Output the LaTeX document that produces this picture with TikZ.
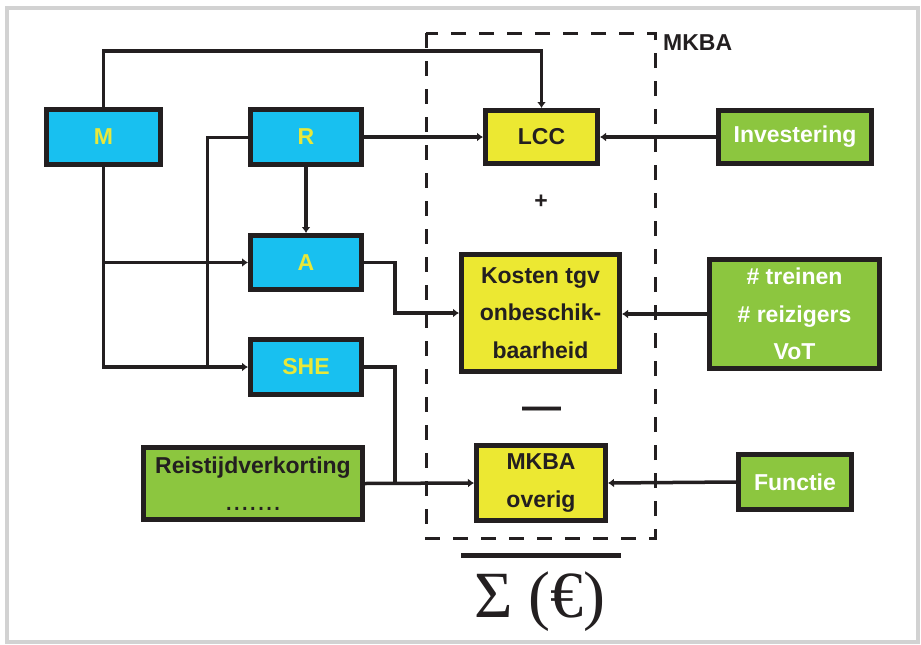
\documentclass[tikz,border=0pt]{standalone}
\usepackage{fontspec}
\setmainfont{Liberation Sans}
\newfontfamily\symfont{Liberation Serif}
\usetikzlibrary{arrows.meta}
\definecolor{ink}{HTML}{231F20}
\definecolor{boxcyan}{HTML}{18C0F0}
\definecolor{boxyellow}{HTML}{ECE832}
\definecolor{boxgreen}{HTML}{8CC63F}
\definecolor{lblyellow}{HTML}{E8E83A}
\definecolor{framegray}{HTML}{D2D2D2}

\begin{document}
\begin{tikzpicture}[x=1pt,y=-1pt,
  box/.style={draw=ink,line width=5pt,inner sep=0pt,align=center,
    font=\fontsize{23}{37.5}\selectfont\bfseries},
  cyanbox/.style={box,fill=boxcyan,text=lblyellow},
  yellowbox/.style={box,fill=boxyellow,text=ink},
  greenbox/.style={box,fill=boxgreen,text=white},
  sz/.style 2 args={minimum width=#1pt,minimum height=#2pt},
  conn/.style={draw=ink,line width=3.5pt},
  thinconn/.style={draw=ink,line width=3pt},
  arr/.style={conn,-{Latex[length=6pt,width=9pt]}},
  plain/.style={inner sep=0pt,text=ink,font=\fontsize{23}{28}\selectfont\bfseries},
]
\useasboundingbox (0,0) rectangle (921,645);
\draw[framegray,line width=4pt] (7,8) rectangle (918,642);

% MKBA boundary
\draw[ink,line width=3pt,dash pattern=on 15pt off 13pt] (426,33) rectangle (655,538);
\node[plain,anchor=north west] (mkbalbl) at (663,34) {MKBA};

% input blocks
\node[cyanbox,sz={114}{55}] (M) at (103.5,137) {M};
\node[cyanbox,sz={111}{55}] (R) at (306,137) {R};
\node[cyanbox,sz={111}{54}] (A) at (306,262.5) {A};
\node[cyanbox,sz={111}{55}] (SHE) at (306,367) {SHE};

% cost terms
\node[yellowbox,sz={112}{53}] (LCC) at (541.5,137) {LCC};
\node[yellowbox,sz={158}{117}] (KU) at (540.5,313) {Kosten tgv\\onbeschik-\\baarheid};
\node[yellowbox,sz={129}{75}] (MO) at (541,483) {MKBA\\overig};

% external inputs
\node[greenbox,sz={153}{53}] (INV) at (795,137) {Investering};
\node[greenbox,sz={170}{109}] (TR) at (794.5,314) {\# treinen\\\# reizigers\\VoT};
\node[greenbox,sz={113}{55}] (FU) at (795,482) {Functie};
\node[greenbox,text=ink,sz={219}{72}] (RT) at (253,483.5)
  {Reistijdverkorting\\{\fontsize{29}{37.5}\selectfont\mdseries .......}};

% operators and total
\node[plain] (plus) at (541,202) {+};
\node[plain,anchor=base,font=\fontsize{39}{40}\selectfont\bfseries] (minus) at (541.5,419) {—};
\draw[ink,line width=5pt] (461,555) -- (621,555);
\node[inner sep=0pt,anchor=base,text=ink,font=\symfont\fontsize{66}{70}\selectfont] (total) at (540,617) {Σ (€)};

% connectors
\coordinate (topy) at (0,51);
\coordinate (rx) at (207,0);
\coordinate (sx) at (395,0);
\draw[arr] (M.north) -- (M.north |- topy) -| (LCC.north);
\draw[arr] (R.east) -- (LCC.west);
\draw[arr] (INV.west) -- (LCC.east);
\draw[arr] (R.south) -- (A.north);
\draw[arr] (M.south) |- (A.west);
\draw[arr] (M.south) |- (SHE.west);
\draw[thinconn] (R.west) -| (rx |- SHE.west);
\draw[arr] (A.east) -- ++(31,0) |- (KU.west);
\draw[arr] (TR.west) -- (KU.east |- TR.west);
\draw[conn] (SHE.east) -| (sx |- RT.east);
\draw[arr] (RT.east) -- (MO.west);
\draw[arr] (FU.west) -- (MO.east);
\end{tikzpicture}
\end{document}
